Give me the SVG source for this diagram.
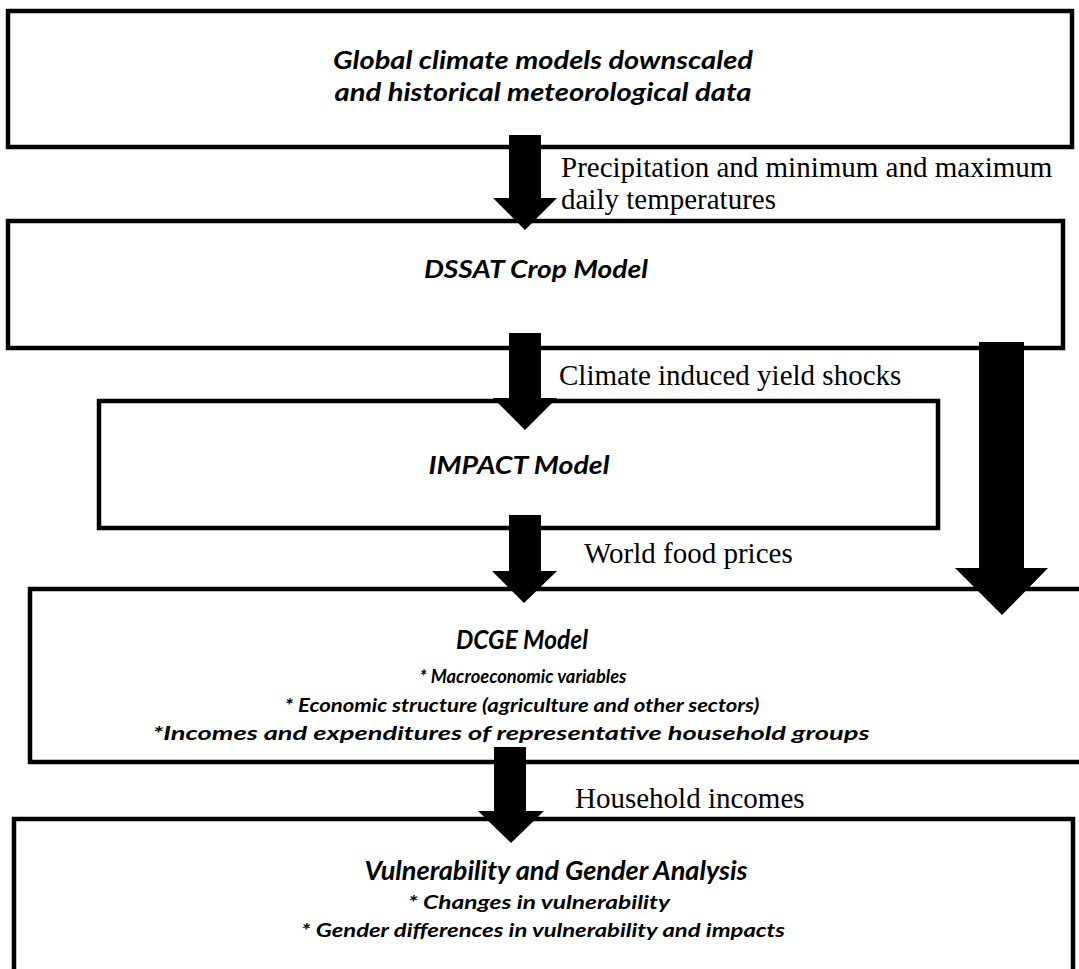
<svg xmlns="http://www.w3.org/2000/svg" width="1079" height="969" viewBox="0 0 1079 969">
<style>
.box{fill:#fff;stroke:#000;stroke-width:4.5}
.arr{fill:#000}
.bt{font-family:Lato,"Open Sans","Liberation Sans",sans-serif;font-weight:bold;font-style:italic;fill:#000;text-anchor:middle}
.lb{font-family:"Liberation Serif","Times New Roman",serif;fill:#000;font-size:29px}
</style>
<rect width="1079" height="969" fill="#fff"/>
<g id="n1">
<rect class="box" x="8" y="11" width="1064" height="136"/>
<text class="bt" x="543" y="69" font-size="25" textLength="420" lengthAdjust="spacingAndGlyphs">Global climate models downscaled</text>
<text class="bt" x="543" y="101" font-size="25" textLength="417" lengthAdjust="spacingAndGlyphs">and historical meteorological data</text>
</g>
<g id="n2">
<rect class="box" x="8" y="221" width="1055" height="127"/>
<text class="bt" x="536" y="278" font-size="25" textLength="224" lengthAdjust="spacingAndGlyphs">DSSAT Crop Model</text>
</g>
<g id="n3">
<rect class="box" x="99" y="401" width="839" height="127"/>
<text class="bt" x="519" y="474" font-size="25" textLength="181" lengthAdjust="spacingAndGlyphs">IMPACT Model</text>
</g>
<g id="n4">
<rect class="box" x="30" y="589" width="1060" height="173"/>
<text class="bt" x="522" y="649" font-size="26" textLength="132" lengthAdjust="spacingAndGlyphs">DCGE Model</text>
<text class="bt" x="523" y="683" font-size="19" textLength="207" lengthAdjust="spacingAndGlyphs">* Macroeconomic variables</text>
<text class="bt" x="522" y="712" font-size="19" textLength="475" lengthAdjust="spacingAndGlyphs">* Economic structure (agriculture and other sectors)</text>
<text class="bt" x="511" y="740" font-size="19" textLength="717" lengthAdjust="spacingAndGlyphs">*Incomes and expenditures of representative household groups</text>
</g>
<g id="n5">
<rect class="box" x="14" y="819" width="1059" height="170"/>
<text class="bt" x="556" y="880" font-size="26" textLength="383" lengthAdjust="spacingAndGlyphs">Vulnerability and Gender Analysis</text>
<text class="bt" x="539" y="909" font-size="19" textLength="262" lengthAdjust="spacingAndGlyphs">* Changes in vulnerability</text>
<text class="bt" x="543" y="937" font-size="19" textLength="484" lengthAdjust="spacingAndGlyphs">* Gender differences in vulnerability and impacts</text>
</g>
<g id="connectors">
<polygon class="arr" points="509,135 541,135 541,198 557,198 525,230 493,198 509,198"/>
<polygon class="arr" points="509,333 541,333 541,398 557,398 525,430 493,398 509,398"/>
<polygon class="arr" points="509,515 541,515 541,571 557,571 524,603 492,571 509,571"/>
<polygon class="arr" points="494,747 526,747 526,811 544,811 511,843 478,811 494,811"/>
<polygon class="arr" points="979,342 1024,342 1024,568 1048,568 1002,615 955,568 979,568"/>
<text class="lb" x="561" y="177">Precipitation and minimum and maximum</text>
<text class="lb" x="561" y="209">daily temperatures</text>
<text class="lb" x="559" y="385" font-size="28">Climate induced yield shocks</text>
<text class="lb" x="584" y="563">World food prices</text>
<text class="lb" x="575" y="808">Household incomes</text>
</g>
</svg>
